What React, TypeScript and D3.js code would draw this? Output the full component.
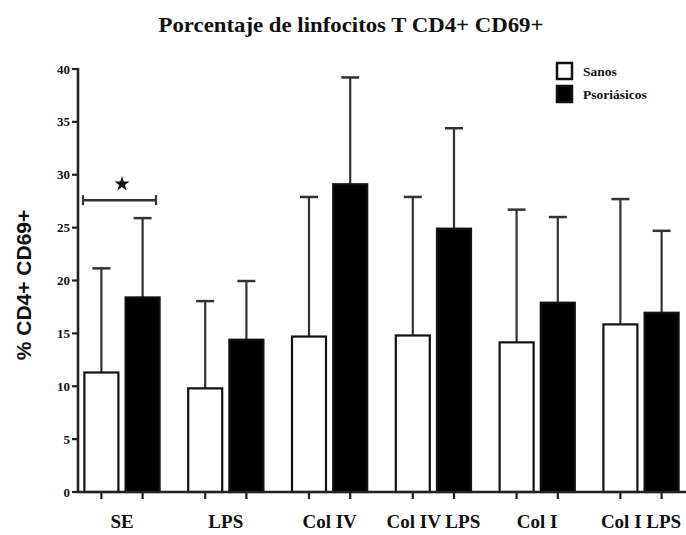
import React from "react";
import * as d3 from "d3";

const categories = ["SE", "LPS", "Col IV", "Col IV LPS", "Col I", "Col I LPS"];
const sanosMean = [11.3, 9.8, 14.7, 14.8, 14.15, 15.85];
const sanosErr = [21.15, 18.05, 27.9, 27.9, 26.7, 27.7];
const psorMean = [18.4, 14.4, 29.1, 24.9, 17.9, 16.95];
const psorErr = [25.9, 19.95, 39.2, 34.4, 26.0, 24.7];
const yTicks = [0, 5, 10, 15, 20, 25, 30, 35, 40];
const seriesNames = ["Sanos", "Psoriásicos"];

export default function App() {
  const W = 686, H = 535;
  const y = d3.scaleLinear().domain([0, 40]).range([492, 69]);
  const x = d3.scalePoint<string>().domain(categories).range([122, 641]);
  const off = 20.6;
  const bw = 34;
  const cap = 18;
  const serif = "Liberation Serif, Times New Roman, DejaVu Serif, serif";
  const sans = "Liberation Sans, Arial, DejaVu Sans, sans-serif";
  const star = d3.symbol().type(d3.symbolStar).size(70)();

  const series = [
    { mean: sanosMean, err: sanosErr, dx: -off, fill: "#fff" },
    { mean: psorMean, err: psorErr, dx: off, fill: "#000" },
  ];

  return (
    <svg width={W} height={H} style={{ position: "absolute", left: 0, top: 0, background: "#fff" }}>
      <rect x={0} y={0} width={W} height={H} fill="#fff" />
      <text x={351} y={32} textAnchor="middle" fontFamily={serif} fontWeight="bold" fontSize={21} fill="#111"
        textLength={385} lengthAdjust="spacingAndGlyphs">
        Porcentaje de linfocitos T CD4+ CD69+
      </text>

      {series.map((s, si) =>
        categories.map((c, i) => {
          const cx = (x(c) as number) + s.dx;
          const top = y(s.mean[i]);
          const et = y(s.err[i]);
          return (
            <g key={si + "-" + i}>
              <line x1={cx} x2={cx} y1={top} y2={et} stroke="#333" strokeWidth={2.2} />
              <line x1={cx - cap / 2} x2={cx + cap / 2} y1={et} y2={et} stroke="#333" strokeWidth={2.5} />
              <rect
                x={cx - bw / 2}
                y={top}
                width={bw}
                height={y(0) - top}
                fill={s.fill}
                stroke="#111"
                strokeWidth={2.2}
              />
            </g>
          );
        })
      )}

      {/* axes */}
      <line x1={78} x2={78} y1={y(40) - 1} y2={y(0) + 1} stroke="#222" strokeWidth={2.6} />
      <line x1={77} x2={686} y1={y(0)} y2={y(0)} stroke="#222" strokeWidth={2.6} />
      {yTicks.map((t) => (
        <g key={t}>
          <line x1={72} x2={78} y1={y(t)} y2={y(t)} stroke="#222" strokeWidth={2.2} />
          <text x={70} y={y(t) + 4.5} textAnchor="end" fontFamily={serif} fontWeight="bold" fontSize={13} fill="#111">
            {t}
          </text>
        </g>
      ))}
      {series.map((s, si) =>
        categories.map((c, i) => (
          <line
            key={"t" + si + i}
            x1={(x(c) as number) + s.dx}
            x2={(x(c) as number) + s.dx}
            y1={y(0)}
            y2={y(0) + 7}
            stroke="#222"
            strokeWidth={2.2}
          />
        ))
      )}
      {categories.map((c) => (
        <text key={c} x={x(c) as number} y={528} textAnchor="middle" fontFamily={serif} fontWeight="bold" fontSize={19} fill="#111">
          {c}
        </text>
      ))}

      <text
        transform={`translate(31,${285}) rotate(-90)`}
        textAnchor="middle"
        fontFamily={sans}
        fontWeight="bold"
        fontSize={21}
        fill="#111"
      >
        % CD4+ CD69+
      </text>

      {/* significance */}
      <line x1={83} x2={156} y1={y(27.6)} y2={y(27.6)} stroke="#333" strokeWidth={2.5} />
      <line x1={83} x2={83} y1={y(27.6) - 5} y2={y(27.6) + 5} stroke="#333" strokeWidth={2.2} />
      <line x1={156} x2={156} y1={y(27.6) - 5} y2={y(27.6) + 5} stroke="#333" strokeWidth={2.2} />
      <path d={star || ""} transform={`translate(122,184)`} fill="#111" />

      {/* legend */}
      {seriesNames.map((n, i) => (
        <g key={n} transform={`translate(557,${63 + i * 23})`}>
          <rect x={0} y={0} width={15} height={16} fill={i === 0 ? "#fff" : "#000"} stroke="#111" strokeWidth={2.5} />
          <text x={26} y={12.5} fontFamily={serif} fontWeight="bold" fontSize={13.5} fill="#111">
            {n}
          </text>
        </g>
      ))}
    </svg>
  );
}
